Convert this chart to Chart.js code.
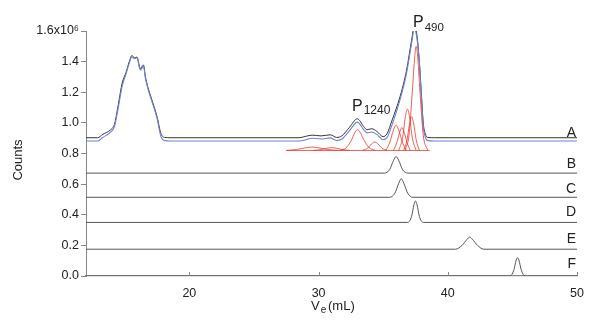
<!DOCTYPE html>
<html>
<head>
<meta charset="utf-8">
<script src="https://cdn.jsdelivr.net/npm/chart.js@4"></script>
<style>
  html, body { margin: 0; padding: 0; background: #fff; }
  #wrap { width: 600px; height: 320px; }
</style>
</head>
<body>
<div id="wrap"><canvas id="sec"></canvas></div>
<script>
// trace A (black and blue), Ve in mL, counts in 10^6
const aX = [12, 12.9, 13.3, 13.9, 14.2, 14.5, 14.8, 15.1, 15.35, 15.55, 15.75, 15.95, 16.2, 16.45, 16.6, 16.8, 17.1, 17.5, 17.8, 18.1, 18.5,
  28.5, 29.0, 29.5, 30.2, 30.9, 31.4, 31.8, 32.4, 33.0, 33.5, 33.75, 34.1, 34.5, 35.0, 35.3, 35.7, 36.3, 36.8, 37.2, 37.4,
  37.6, 37.8, 37.95, 38.1, 38.25, 38.45, 39, 50];
const aBlack = [0.903, 0.903, 0.925, 0.955, 0.99, 1.12, 1.26, 1.33, 1.40, 1.44, 1.425, 1.43, 1.355, 1.378, 1.30, 1.23, 1.15, 1.04, 0.93, 0.905, 0.903,
  0.903, 0.912, 0.92, 0.915, 0.922, 0.905, 0.915, 0.972, 1.027, 0.975, 0.955, 0.962, 0.945, 0.91, 0.93, 1.02, 1.17, 1.34, 1.54, 1.625,
  1.58, 1.40, 1.20, 1.00, 0.93, 0.905, 0.903, 0.903];
const aBlue = [0.882, 0.882, 0.905, 0.94, 0.975, 1.10, 1.24, 1.32, 1.39, 1.43, 1.42, 1.425, 1.345, 1.37, 1.29, 1.22, 1.14, 1.03, 0.91, 0.884, 0.882,
  0.882, 0.89, 0.90, 0.895, 0.902, 0.885, 0.895, 0.95, 1.005, 0.955, 0.935, 0.94, 0.925, 0.89, 0.905, 0.99, 1.15, 1.32, 1.52, 1.61,
  1.56, 1.39, 1.18, 0.98, 0.91, 0.884, 0.882, 0.882];

// deconvoluted red peaks
const redBase = [[27.5, 38.6], [0.82, 0.82]];
const redPeaks = [
  [[27.5, 28.3, 28.9, 29.5, 30.1, 30.7, 31.5], [0.82, 0.826, 0.836, 0.842, 0.836, 0.826, 0.82]],
  [[29.6, 30.2, 30.6, 31.0, 31.4, 31.8, 32.4], [0.82, 0.826, 0.834, 0.838, 0.834, 0.826, 0.82]],
  [[31.6, 32.1, 32.5, 32.8, 33.0, 33.2, 33.5, 33.9, 34.4], [0.82, 0.835, 0.88, 0.935, 0.955, 0.94, 0.89, 0.84, 0.82]],
  [[33.4, 33.8, 34.1, 34.35, 34.6, 34.9, 35.3], [0.82, 0.835, 0.862, 0.875, 0.862, 0.835, 0.82]],
  [[35.2, 35.5, 35.8, 36.0, 36.2, 36.5, 36.8], [0.82, 0.87, 0.955, 0.985, 0.955, 0.87, 0.82]],
  [[35.8, 36.05, 36.3, 36.45, 36.6, 36.85, 37.1], [0.82, 0.87, 0.945, 0.97, 0.945, 0.87, 0.82]],
  [[36.2, 36.5, 36.72, 36.88, 37.04, 37.26, 37.55], [0.82, 0.9, 1.04, 1.09, 1.04, 0.9, 0.82]],
  [[36.6, 36.85, 37.05, 37.2, 37.35, 37.55, 37.8], [0.82, 0.89, 1.0, 1.04, 1.0, 0.89, 0.82]],
  [[36.7, 37.0, 37.25, 37.45, 37.55, 37.65, 37.85, 38.1, 38.45], [0.82, 0.92, 1.2, 1.44, 1.50, 1.45, 1.2, 0.92, 0.82]]
];

// standards B-F
const stdX = {
  B: [12, 35.1, 35.5, 35.8, 36.0, 36.2, 36.5, 36.9, 50],
  C: [12, 35.5, 35.9, 36.2, 36.4, 36.6, 36.9, 37.3, 50],
  D: [12, 36.9, 37.2, 37.38, 37.5, 37.62, 37.8, 38.1, 50],
  E: [12, 40.6, 41.1, 41.5, 41.7, 41.9, 42.3, 42.8, 50],
  F: [12, 44.8, 45.1, 45.3, 45.4, 45.5, 45.7, 46.0, 50]
};
const stdY = {
  B: [0.672, 0.672, 0.695, 0.755, 0.78, 0.755, 0.695, 0.672, 0.672],
  C: [0.514, 0.514, 0.54, 0.605, 0.635, 0.605, 0.54, 0.514, 0.514],
  D: [0.35, 0.35, 0.39, 0.465, 0.489, 0.465, 0.39, 0.35, 0.35],
  E: [0.175, 0.175, 0.2, 0.24, 0.254, 0.24, 0.2, 0.175, 0.175],
  F: [0, 0, 0.035, 0.105, 0.119, 0.105, 0.035, 0, 0]
};

const traceNames = ['A', 'B', 'C', 'D', 'E', 'F'];
const traceLabelY = [0.933, 0.729, 0.565, 0.417, 0.239, 0.075];
const xTicks = [20, 30, 40, 50];
const yTicks = [0, 0.2, 0.4, 0.6, 0.8, 1.0, 1.2, 1.4, 1.6];

const FONT = "'Liberation Sans', Arial, sans-serif";

function pts(xs, ys) {
  return xs.map((x, i) => ({ x: x, y: ys[i] }));
}

function line(data, color, width) {
  return {
    data: data,
    borderColor: color,
    borderWidth: width,
    pointRadius: 0,
    fill: false,
    cubicInterpolationMode: 'monotone'
  };
}

let datasets = [];
datasets.push(line(pts(redBase[0], redBase[1]), '#e8392f', 0.8));
redPeaks.forEach(p => datasets.push(line(pts(p[0], p[1]), '#e8392f', 0.8)));
datasets.push(line(pts(aX, aBlue), '#6f80d8', 1.1));
datasets.push(line(pts(aX, aBlack), '#333333', 1));
['B', 'C', 'D', 'E', 'F'].forEach(k => datasets.push(line(pts(stdX[k], stdY[k]), '#555555', 1)));

const extras = {
  id: 'extras',
  afterDraw(chart) {
    const ctx = chart.ctx;
    const xs = chart.scales.x, ys = chart.scales.y;
    ctx.save();
    // inward x ticks
    ctx.strokeStyle = '#888';
    ctx.lineWidth = 1;
    xTicks.forEach(v => {
      const px = Math.round(xs.getPixelForValue(v)) + 0.5;
      ctx.beginPath();
      ctx.moveTo(px, ys.bottom);
      ctx.lineTo(px, ys.bottom - 4);
      ctx.stroke();
    });
    // trace names
    ctx.fillStyle = '#222';
    ctx.font = '14px ' + FONT;
    ctx.textAlign = 'right';
    ctx.textBaseline = 'middle';
    traceNames.forEach((n, i) => {
      ctx.fillText(n, xs.getPixelForValue(50) - 1, ys.getPixelForValue(traceLabelY[i]));
    });
    // peak labels
    ctx.textAlign = 'left';
    ctx.textBaseline = 'alphabetic';
    const sub = (x, y, big, small, bs, ss, drop) => {
      ctx.font = bs + 'px ' + FONT;
      ctx.fillText(big, x, y);
      const w = ctx.measureText(big).width;
      ctx.font = ss + 'px ' + FONT;
      ctx.fillText(small, x + w + 1, y + drop);
    };
    sub(352, 111, 'P', '1240', 16, 12, 3);
    sub(413, 27, 'P', '490', 16, 11.5, 4);
    // axis titles
    ctx.fillStyle = '#222';
    sub(311, 310, 'V', 'e', 13, 10, 3);
    ctx.font = '13px ' + FONT;
    ctx.fillText('(mL)', 328, 310);
    ctx.translate(22, 160);
    ctx.rotate(-Math.PI / 2);
    ctx.textAlign = 'center';
    ctx.fillText('Counts', 0, 0);
    ctx.restore();
  }
};

new Chart(document.getElementById('sec'), {
  type: 'line',
  data: { datasets: datasets },
  options: {
    responsive: true,
    maintainAspectRatio: false,
    animation: false,
    layout: { padding: { top: 31, right: 23, left: 0, bottom: 0 } },
    plugins: {
      legend: { display: false },
      tooltip: { enabled: false }
    },
    scales: {
      x: {
        type: 'linear',
        min: 12,
        max: 50,
        afterBuildTicks: (s) => { s.ticks = xTicks.map(v => ({ value: v })); },
        afterFit: (s) => { s.height = 44; },
        grid: { drawOnChartArea: false, drawTicks: false },
        border: { color: '#888', width: 1.2 },
        ticks: { padding: 10, color: '#222', font: { family: FONT, size: 12.5 }, maxRotation: 0 }
      },
      y: {
        type: 'linear',
        min: 0,
        max: 1.6,
        afterBuildTicks: (s) => { s.ticks = yTicks.map(v => ({ value: v })); },
        afterFit: (s) => { s.width = 86; },
        grid: { drawOnChartArea: false, tickLength: 5, color: '#888' },
        border: { color: '#888', width: 1 },
        ticks: {
          padding: 2,
          color: '#222',
          font: { family: FONT, size: 12.5 },
          callback: function(value) {
            return value >= 1.6 ? '1.6x10\u2076' : value.toFixed(1);
          }
        }
      }
    }
  },
  plugins: [extras]
});
</script>
</body>
</html>
